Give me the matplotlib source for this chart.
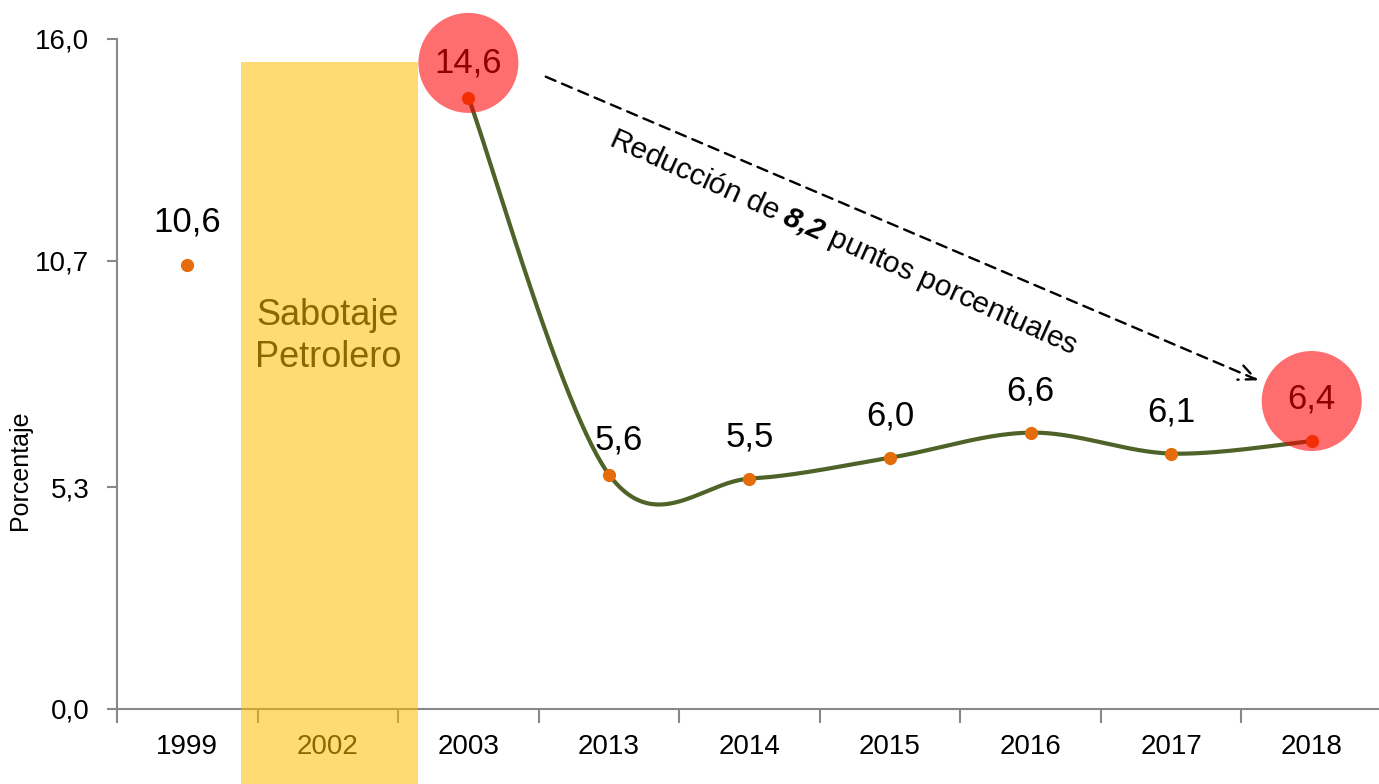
import numpy as np
import matplotlib
matplotlib.use("Agg")
import matplotlib.pyplot as plt
from matplotlib.patches import Rectangle, Ellipse
from matplotlib import font_manager

# ---- data ----
categories = ["1999", "2002", "2003", "2013", "2014", "2015", "2016", "2017", "2018"]
value_1999 = 10.6
line_years = ["2003", "2013", "2014", "2015", "2016", "2017", "2018"]
line_values = [14.6, 5.6, 5.5, 6.0, 6.6, 6.1, 6.4]
ytick_values = [0.0, 5.3, 10.7, 16.0]
ytick_labels = ["0,0", "5,3", "10,7", "16,0"]
shade_label = "Sabotaje\nPetrolero"
shade_category = "2002"
shade_top = 15.45
ylabel = "Porcentaje"

names = {f.name for f in font_manager.fontManager.ttflist}
fam = "Liberation Sans Narrow" if "Liberation Sans Narrow" in names else "Liberation Sans"
plt.rcParams["font.family"] = [fam, "DejaVu Sans"]
plt.rcParams["mathtext.fontset"] = "custom"
plt.rcParams["mathtext.rm"] = fam
plt.rcParams["mathtext.it"] = fam + ":italic"
plt.rcParams["mathtext.bf"] = fam + ":bold"
has_bfit = "mathtext.bfit" in plt.rcParams
if has_bfit:
    plt.rcParams["mathtext.bfit"] = fam + ":italic:bold"

W, H, DPI = 1379, 784, 100
fig = plt.figure(figsize=(W / DPI, H / DPI), dpi=DPI)
ax = fig.add_axes([117 / W, 1 - 709 / H, (1382 - 117) / W, (709 - 39) / H])

ax.set_xlim(-0.5, len(categories) - 0.5)
ax.set_ylim(0, 16)

def fmt(v):
    return f"{v:.1f}".replace(".", ",")

orange = "#E46C0A"
green = "#4F6228"

# smooth line (Catmull-Rom through the points, like Excel's smoothing)
xi = np.array([categories.index(y) for y in line_years], dtype=float)
yi = np.array(line_values, dtype=float)
P = np.column_stack([xi, yi])
pts = []
n = len(P)
for i in range(n - 1):
    p0 = P[i - 1] if i > 0 else P[i]
    p1 = P[i]
    p2 = P[i + 1]
    p3 = P[i + 2] if i + 2 < n else P[i + 1]
    c1 = p1 + (p2 - p0) / 6.0
    c2 = p2 - (p3 - p1) / 6.0
    t = np.linspace(0, 1, 60)[:, None]
    seg = (1 - t) ** 3 * p1 + 3 * (1 - t) ** 2 * t * c1 + 3 * (1 - t) * t ** 2 * c2 + t ** 3 * p2
    pts.append(seg)
curve = np.vstack(pts)
ax.plot(curve[:, 0], curve[:, 1], color=green, lw=3.0, zorder=3, solid_capstyle="round")
ax.plot(xi, yi, "o", color=orange, ms=9.5, mec="none", zorder=4)
ax.plot([categories.index("1999")], [value_1999], "o", color=orange, ms=9.5, mec="none", zorder=4)

# data labels
lab_kw = dict(textcoords="offset points", ha="center", va="center", fontsize=25, color="black", zorder=5)
ax.annotate(fmt(value_1999), (categories.index("1999"), value_1999), xytext=(0, 31), **lab_kw)
for k, (x, v) in enumerate(zip(xi, yi)):
    if k == 0:
        off = (0, 25)
    elif k == 1:
        off = (7, 25)
    else:
        off = (0, 30)
    ax.annotate(fmt(v), (x, v), xytext=off, **lab_kw)

# red highlight circles (semi-transparent, on top)
px_per_x = (1382 - 117) / len(categories)
px_per_y = (709 - 39) / 16.0
r = 50
for x, v in [(xi[0], yi[0]), (xi[-1], yi[-1])]:
    cy = v + 25 * 1.3889 / px_per_y if v > 14 else v + 40 / px_per_y
    e = Ellipse((x, cy), 2 * r / px_per_x, 2 * r / px_per_y, facecolor="red", alpha=0.57,
                edgecolor="none", zorder=10, clip_on=False)
    ax.add_patch(e)

# sabotage shaded band (semi-transparent amber overlay, extends below axis)
sx = categories.index(shade_category)
ax.text(sx, 8.9, shade_label, ha="center", va="center", fontsize=26, color="black",
        linespacing=1.25, zorder=5)
rect = Rectangle((sx - 0.62, -2.5), 1.26, shade_top + 2.5, facecolor="#FFC000", alpha=0.55,
                 edgecolor="none", zorder=9, clip_on=False)
ax.add_patch(rect)

# dashed arrow with annotation text
ax.annotate("", xy=(7.62, 7.85), xytext=(2.55, 15.1),
            arrowprops=dict(arrowstyle="->,head_length=1.2,head_width=0.55", linestyle=(0, (4.5, 3)),
                            color="black", lw=1.7, shrinkA=0, shrinkB=0), zorder=6)
bold_part = r"$\mathbfit{8{,}2}$" if has_bfit else r"$\mathbf{8{,}2}$"
ax.text(4.67, 11.15, "Reducción de " + bold_part + " puntos porcentuales", rotation=-24.3,
        rotation_mode="anchor", ha="center", va="center", fontsize=21.5, zorder=6)

# axes styling
for s in ["top", "right"]:
    ax.spines[s].set_visible(False)
for s in ["left", "bottom"]:
    ax.spines[s].set_color("#888888")
    ax.spines[s].set_linewidth(1.5)
ax.set_yticks(ytick_values)
ax.set_yticklabels(ytick_labels, fontsize=20)
ax.tick_params(axis="y", length=7, width=1.5, color="#888888", pad=13)
ax.set_xticks(range(len(categories)))
ax.set_xticklabels(categories, fontsize=20)
ax.tick_params(axis="x", which="major", length=0, pad=18)
ax.set_xticks(np.arange(-0.5, len(categories), 1.0), minor=True)
ax.tick_params(axis="x", which="minor", length=10, width=1.5, color="#888888")
ax.set_ylabel(ylabel, fontsize=18)
ax.yaxis.set_label_coords(-0.067, 0.357)

fig.savefig("out.png", dpi=DPI)
